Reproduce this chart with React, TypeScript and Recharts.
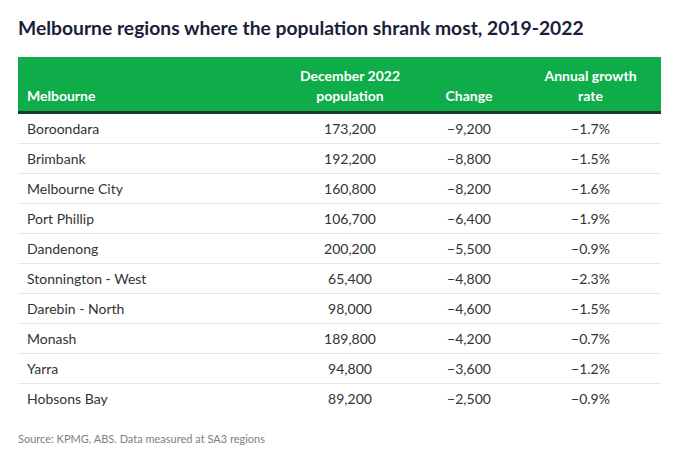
import React from 'react';
import { BarChart, Bar, XAxis, YAxis } from 'recharts';

// table values
const regions = [
  'Boroondara',
  'Brimbank',
  'Melbourne City',
  'Port Phillip',
  'Dandenong',
  'Stonnington - West',
  'Darebin - North',
  'Monash',
  'Yarra',
  'Hobsons Bay',
];
const population = [173200, 192200, 160800, 106700, 200200, 65400, 98000, 189800, 94800, 89200];
const change = [-9200, -8800, -8200, -6400, -5500, -4800, -4600, -4200, -3600, -2500];
const growthRate = [-1.7, -1.5, -1.6, -1.9, -0.9, -2.3, -1.5, -0.7, -1.2, -0.9];

const headers = [['Melbourne'], ['December 2022', 'population'], ['Change'], ['Annual growth', 'rate']];

const FONT = 'Lato, "Noto Sans", sans-serif';
const GREEN = '#0fac4a';
const TEXT = '#333333';
const LINE = '#e6e6e6';

// column widths (px) of the table, left to right
const COL_W = [264, 136, 102, 141];
const TABLE_W = COL_W.reduce((a, b) => a + b, 0);
const ROW_H = 30;

const minus = (v: number, s: string) => (v < 0 ? '\u2212' + s : s);
const fmtPop = (v: number) => v.toLocaleString('en-US');
const fmtChange = (v: number) => minus(v, Math.abs(v).toLocaleString('en-US'));
const fmtRate = (v: number) => minus(v, Math.abs(v).toFixed(1) + '%');

const rows = regions.map((name, i) => ({
  name,
  population: fmtPop(population[i]),
  change: fmtChange(change[i]),
  rate: fmtRate(growthRate[i]),
}));

const makeCell = (field: string, align: 'start' | 'middle') => (props: any) => {
  const { x, y, width, height, payload, index } = props;
  const tx = align === 'start' ? x + 9 : x + width / 2;
  return (
    <g>
      {index < rows.length - 1 && (
        <line x1={x} x2={x + width} y1={y + height - 0.5} y2={y + height - 0.5} stroke={LINE} strokeWidth={1} />
      )}
      <text
        x={tx}
        y={y + height / 2}
        dy="0.35em"
        textAnchor={align}
        fontFamily={FONT}
        fontSize={14}
        fill={TEXT}
      >
        {payload[field]}
      </text>
    </g>
  );
};

export default function App() {
  return (
    <div style={{ position: 'absolute', left: 0, top: 0, width: 679, height: 458, background: '#fff', fontFamily: FONT }}>
      <div
        style={{
          position: 'absolute',
          left: 18,
          top: 15,
          fontSize: 19.3,
          fontWeight: 700,
          color: '#1b1d3a',
          lineHeight: '26px',
          whiteSpace: 'nowrap',
        }}
      >
        Melbourne regions where the population shrank most, 2019-2022
      </div>

      <div
        style={{
          position: 'absolute',
          left: 18,
          top: 57,
          width: TABLE_W,
          height: 54,
          background: GREEN,
          borderBottom: '3px solid #1a3a28',
          display: 'flex',
          alignItems: 'flex-end',
          boxSizing: 'content-box',
        }}
      >
        {headers.map((lines, i) => (
          <div
            key={i}
            style={{
              width: COL_W[i],
              boxSizing: 'border-box',
              paddingLeft: i === 0 ? 9 : 0,
              paddingBottom: 5,
              textAlign: i === 0 ? 'left' : 'center',
              color: '#fff',
              fontWeight: 700,
              fontSize: 14,
              lineHeight: '20px',
            }}
          >
            {lines.map((l, j) => (
              <div key={j}>{l}</div>
            ))}
          </div>
        ))}
      </div>

      <div style={{ position: 'absolute', left: 18, top: 114 }}>
        <BarChart
          width={TABLE_W}
          height={ROW_H * rows.length}
          data={rows}
          layout="vertical"
          margin={{ top: 0, right: 0, bottom: 0, left: 0 }}
          barCategoryGap={0}
        >
          <XAxis type="number" domain={[0, TABLE_W]} hide />
          <YAxis type="category" dataKey="name" hide />
          <Bar dataKey={() => COL_W[0]} stackId="t" shape={makeCell('name', 'start')} isAnimationActive={false} />
          <Bar dataKey={() => COL_W[1]} stackId="t" shape={makeCell('population', 'middle')} isAnimationActive={false} />
          <Bar dataKey={() => COL_W[2]} stackId="t" shape={makeCell('change', 'middle')} isAnimationActive={false} />
          <Bar dataKey={() => COL_W[3]} stackId="t" shape={makeCell('rate', 'middle')} isAnimationActive={false} />
        </BarChart>
      </div>

      <div style={{ position: 'absolute', left: 18, top: 431, fontSize: 11, color: '#808080', lineHeight: '15px' }}>
        Source: KPMG, ABS. Data measured at SA3 regions
      </div>
    </div>
  );
}
